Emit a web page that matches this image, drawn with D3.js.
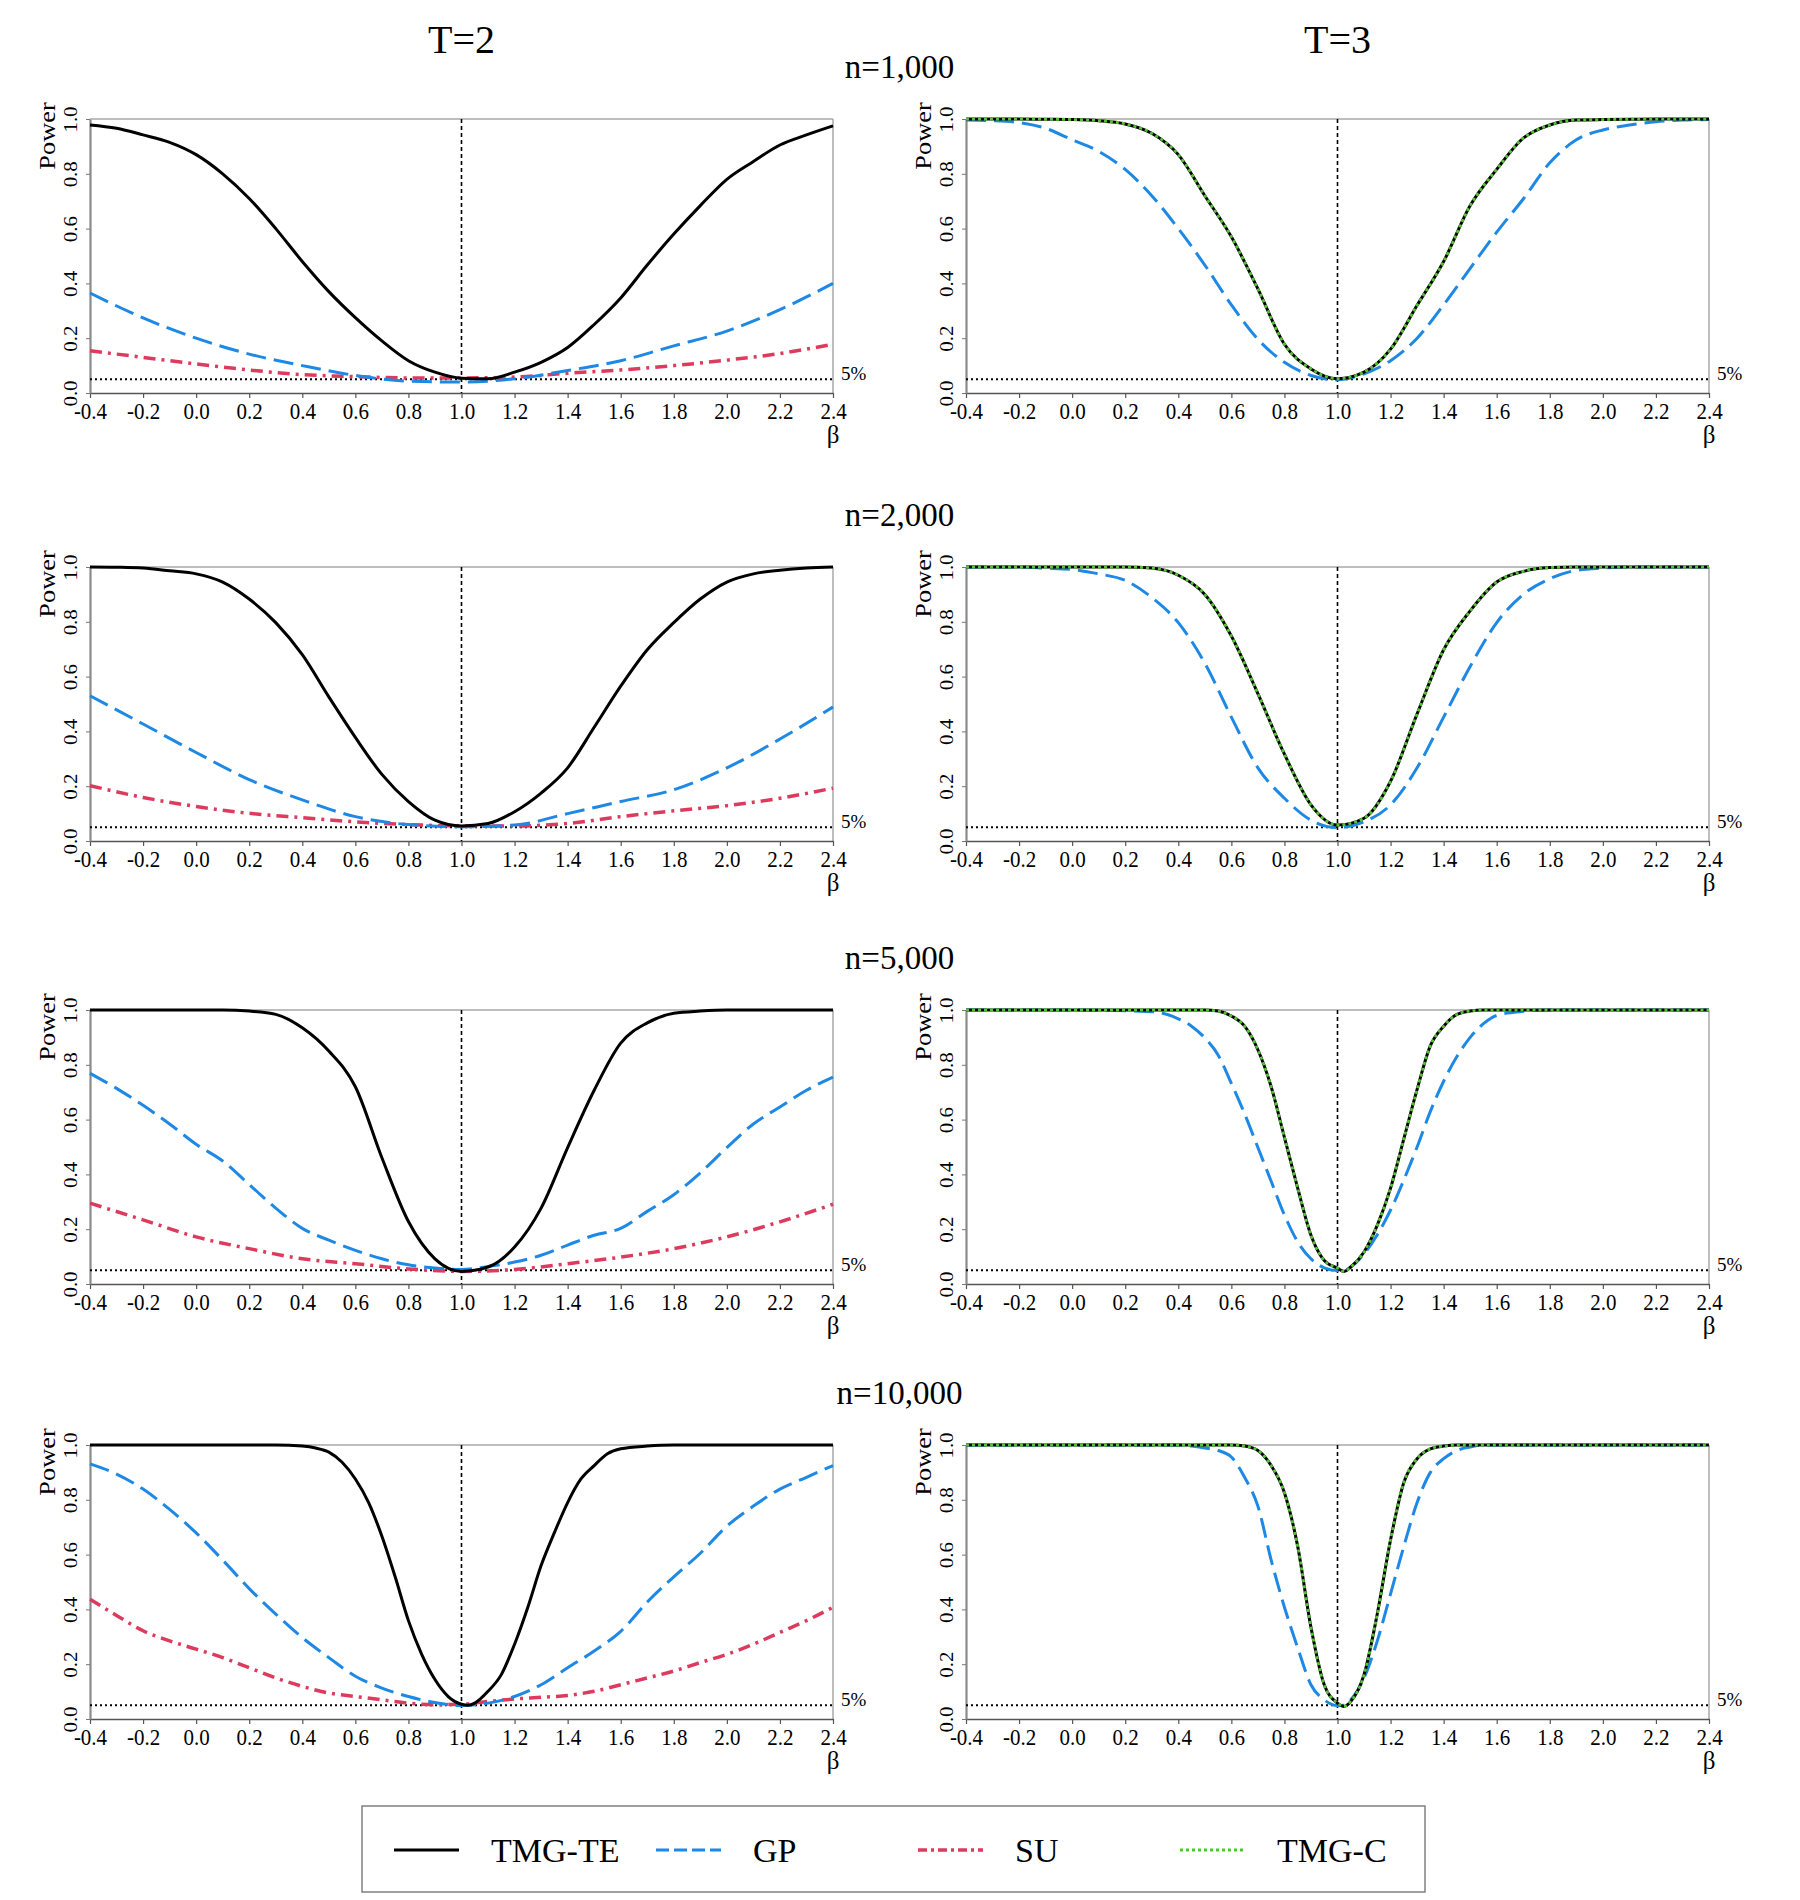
<!DOCTYPE html>
<html>
<head>
<meta charset="utf-8">
<script src="https://cdn.jsdelivr.net/npm/d3@7"></script>
<style>
  body { margin: 0; background: #fff; }
  svg text { font-family: "Liberation Serif", "Times New Roman", serif; fill: #000; }
</style>
</head>
<body>
<svg id="chart" width="1800" height="1900"></svg>
<script>
// ---- data ----
var periods = ["T=2", "T=3"];
var sampleSizes = ["n=1,000", "n=2,000", "n=5,000", "n=10,000"];
var seriesNames = ["TMG-TE", "GP", "SU", "TMG-C"];

var betaTicks = [-0.4, -0.2, 0, 0.2, 0.4, 0.6, 0.8, 1, 1.2, 1.4, 1.6, 1.8, 2, 2.2, 2.4];
var powerTicks = [0, 0.2, 0.4, 0.6, 0.8, 1];

var betaStep02 = [-0.4, -0.2, 0, 0.2, 0.4, 0.6, 0.8, 1, 1.2, 1.4, 1.6, 1.8, 2, 2.2, 2.4];
var betaStep01 = [-0.4, -0.3, -0.2, -0.1, 0, 0.1, 0.2, 0.3, 0.4, 0.5, 0.6, 0.7, 0.8, 0.9, 1,
  1.1, 1.2, 1.3, 1.4, 1.5, 1.6, 1.7, 1.8, 1.9, 2, 2.1, 2.2, 2.3, 2.4];
var betaFine = [-0.4, 0, 0.3, 0.4, 0.45, 0.5, 0.55, 0.6, 0.65, 0.7, 0.75, 0.8, 0.85, 0.9, 0.95, 1,
  1.025, 1.05, 1.1, 1.15, 1.2, 1.25, 1.3, 1.35, 1.4, 1.45, 1.5, 1.55, 1.6, 1.7, 1.8, 2, 2.4];

// n=1,000
var te_T2_n1000 = [.978, .966, .942, .915, .87, .80, .71, .60, .48, .37, .275, .19, .118, .076, .054,
  .052, .076, .112, .166, .25, .347, .467, .58, .684, .78, .845, .905, .942, .975];
var gp_T2_n1000 = [.365, .274, .20, .142, .10, .064, .043, .04, .052, .082, .118, .172, .226, .304, .40];
var su_T2_n1000 = [.154, .13, .106, .084, .067, .06, .055, .055, .058, .072, .084, .10, .12, .144, .178];
var te_T3_n1000 = [1, 1, 1, .999, .998, .994, .982, .948, .87, .72, .57, .38, .178, .088, .052,
  .076, .16, .32, .48, .684, .816, .93, .978, .996, .998, .999, 1, 1, 1];
var gp_T3_n1000 = [.996, .994, .987, .966, .924, .882, .816, .72, .60, .467, .322, .196, .112, .064, .048,
  .07, .118, .20, .322, .455, .587, .708, .84, .924, .96, .978, .99, .996, .998];

// n=2,000
var te_T2_n2000 = [1, .999, .996, .986, .975, .945, .883, .797, .68, .526, .378, .243, .144, .076, .055,
  .064, .107, .175, .267, .415, .565, .698, .797, .883, .945, .975, .988, .996, 1];
var gp_T2_n2000 = [.53, .427, .323, .224, .15, .089, .06, .052, .058, .10, .144, .187, .267, .372, .489];
var su_T2_n2000 = [.202, .159, .126, .101, .085, .07, .06, .055, .055, .064, .089, .11, .129, .156, .193];
var te_T3_n2000 = [1, 1, 1, 1, 1, 1, 1, .996, .97, .90, .748, .538, .317, .132, .058,
  .083, .218, .464, .698, .84, .945, .984, .998, 1, 1, 1, 1, 1, 1];
var gp_T3_n2000 = [1, 1, 1, .996, .991, .975, .951, .889, .797, .649, .452, .267, .156, .076, .049,
  .07, .132, .267, .452, .637, .797, .90, .957, .988, .996, 1, 1, 1, 1];

// n=5,000
var te_T2_n5000 = [1, 1, 1, 1, 1, 1, .996, .984, .935, .85, .72, .461, .228, .092, .046,
  .062, .135, .277, .498, .707, .879, .953, .988, .996, 1, 1, 1, 1, 1];
var gp_T2_n5000 = [.769, .714, .652, .584, .51, .449, .363, .277, .203, .16, .123, .092, .07, .058, .053,
  .064, .08, .105, .142, .178, .203, .265, .326, .406, .498, .584, .646, .707, .755];
var su_T2_n5000 = [.295, .234, .172, .129, .092, .074, .055, .046, .053, .074, .098, .129, .172, .227, .291];
var te_T3_n5000 = [1, 1, 1, 1, 1, 1, .996, .978, .941, .855, .72, .535, .35, .178, .086, .058,
  .046, .062, .117, .215, .35, .53, .71, .87, .941, .984, .996, 1, 1, 1, 1, 1, 1];
var gp_T3_n5000 = [1, 1, .994, .968, .941, .898, .836, .732, .621, .498, .375, .252, .154, .092, .059, .049,
  .05, .062, .11, .18, .27, .38, .50, .63, .74, .83, .90, .95, .98, .995, 1, 1, 1];

// n=10,000
var te_T2_n10000 = [1, 1, 1, .996, .989, .974, .937, .876, .79, .667, .519, .359, .236, .144, .082, .054,
  .05, .058, .101, .162, .273, .408, .56, .68, .79, .876, .925, .968, .986, .996, 1, 1, 1];
var gp_T2_n10000 = [.931, .894, .839, .765, .679, .58, .476, .383, .297, .224, .156, .113, .082, .06, .049,
  .058, .082, .125, .187, .248, .32, .427, .519, .605, .704, .777, .839, .882, .925];
var su_T2_n10000 = [.437, .378, .322, .285, .255, .224, .187, .15, .119, .095, .082, .07, .058, .052, .054,
  .064, .073, .079, .086, .101, .125, .15, .175, .206, .236, .273, .316, .359, .408];
var te_T3_n10000 = [1, 1, 1, 1, 1, 1, 1, 1, .996, .98, .925, .826, .63, .335, .125, .058,
  .046, .064, .162, .384, .654, .863, .95, .986, .996, 1, 1, 1, 1, 1, 1, 1, 1];
var gp_T3_n10000 = [1, 1, 1, 1, .996, .989, .98, .956, .882, .777, .58, .408, .26, .125, .07, .049,
  .05, .07, .15, .285, .457, .63, .79, .9, .95, .98, .993, 1, 1, 1, 1, 1, 1];

// TMG-C lies exactly on TMG-TE in every T=3 panel
var tmgc_T3_n1000 = te_T3_n1000.slice();
var tmgc_T3_n2000 = te_T3_n2000.slice();
var tmgc_T3_n5000 = te_T3_n5000.slice();
var tmgc_T3_n10000 = te_T3_n10000.slice();

// panel contents: [row][col] -> list of [series, beta, power] in drawing order
var panels = [
  [[["SU", betaStep02, su_T2_n1000], ["GP", betaStep02, gp_T2_n1000], ["TMG-TE", betaStep01, te_T2_n1000]],
   [["GP", betaStep01, gp_T3_n1000], ["TMG-TE", betaStep01, te_T3_n1000], ["TMG-C", betaStep01, tmgc_T3_n1000]]],
  [[["SU", betaStep02, su_T2_n2000], ["GP", betaStep02, gp_T2_n2000], ["TMG-TE", betaStep01, te_T2_n2000]],
   [["GP", betaStep01, gp_T3_n2000], ["TMG-TE", betaStep01, te_T3_n2000], ["TMG-C", betaStep01, tmgc_T3_n2000]]],
  [[["SU", betaStep02, su_T2_n5000], ["GP", betaStep01, gp_T2_n5000], ["TMG-TE", betaStep01, te_T2_n5000]],
   [["GP", betaFine, gp_T3_n5000], ["TMG-TE", betaFine, te_T3_n5000], ["TMG-C", betaFine, tmgc_T3_n5000]]],
  [[["SU", betaStep01, su_T2_n10000], ["GP", betaStep01, gp_T2_n10000], ["TMG-TE", betaFine, te_T2_n10000]],
   [["GP", betaFine, gp_T3_n10000], ["TMG-TE", betaFine, te_T3_n10000], ["TMG-C", betaFine, tmgc_T3_n10000]]]
];

// ---- look ----
var styles = {
  "TMG-TE": { stroke: "#000000", width: 3, dash: null, legendDash: null },
  "GP": { stroke: "#1e88e5", width: 3, dash: "20,8", legendDash: "13,5" },
  "SU": { stroke: "#dc3b5d", width: 3.5, dash: "12,6,3,6", legendDash: "9,4,3,4" },
  "TMG-C": { stroke: "#55c236", width: 2.8, dash: "3,3", legendDash: "3,3" }
};

var svg = d3.select("#chart");
svg.append("rect").attr("width", 1800).attr("height", 1900).attr("fill", "#fff");

var colLeft = [90, 966];
var plotW = 743;
var rowTop = [119, 567, 1010, 1445];
var plotH = 274;
var stretch = 1.1;   // the source figure's lettering is slightly taller than wide

function fmt(v) {
  return Math.abs(v) < 1e-9 ? "0.0" : v.toFixed(1);
}

// column headers
periods.forEach(function(p, c) {
  svg.append("text")
    .attr("x", colLeft[c] + plotW / 2)
    .attr("y", 53)
    .attr("text-anchor", "middle")
    .attr("font-size", 40)
    .text(p);
});

sampleSizes.forEach(function(label, r) {
  svg.append("text")
    .attr("x", (colLeft[0] + colLeft[1] + plotW) / 2)
    .attr("y", rowTop[r] - 41)
    .attr("text-anchor", "middle")
    .attr("font-size", 33)
    .text(label);

  for (var c = 0; c < 2; c++) {
    drawPanel(r, c);
  }
});

function drawPanel(r, c) {
  var left = colLeft[c], top = rowTop[r];
  var x = d3.scaleLinear().domain([-0.4, 2.4]).range([left, left + plotW]);
  var y = d3.scaleLinear().domain([0, 1]).range([top + plotH, top]);
  var g = svg.append("g");

  // top and right frame
  g.append("line")
    .attr("x1", x(-0.4)).attr("x2", x(2.4)).attr("y1", y(1)).attr("y2", y(1))
    .attr("stroke", "#a8a8a8").attr("stroke-width", 1.5);
  g.append("line")
    .attr("x1", x(2.4)).attr("x2", x(2.4)).attr("y1", y(1)).attr("y2", y(0))
    .attr("stroke", "#a8a8a8").attr("stroke-width", 1.5);

  // x axis
  var gx = g.append("g")
    .attr("transform", "translate(0," + y(0) + ")")
    .call(d3.axisBottom(x).tickValues(betaTicks).tickFormat(fmt).tickSize(5).tickSizeOuter(0));
  gx.select(".domain").attr("stroke", "#555").attr("stroke-width", 1.5);
  gx.selectAll(".tick line").attr("stroke", "#555").attr("stroke-width", 1.2);
  gx.selectAll(".tick text")
    .attr("y", 0).attr("dy", 0)
    .attr("transform", "translate(0,26) scale(1," + stretch + ")")
    .attr("font-size", 21)
    .attr("fill", "#000");

  // y axis
  var gy = g.append("g")
    .attr("transform", "translate(" + x(-0.4) + ",0)")
    .call(d3.axisLeft(y).tickValues(powerTicks).tickFormat(fmt).tickSize(4).tickSizeOuter(0));
  gy.select(".domain").attr("stroke", "#8a8a8a").attr("stroke-width", 2.2);
  gy.selectAll(".tick line").attr("stroke", "#777");
  gy.selectAll(".tick text")
    .attr("x", 0).attr("y", 0).attr("dy", 0)
    .attr("text-anchor", "middle")
    .attr("transform", "translate(-13,0) rotate(-90) scale(" + stretch + ",1)")
    .attr("font-size", 19)
    .attr("fill", "#000");

  g.append("text")
    .attr("transform", "translate(" + (left - 35) + "," + (top + 17) + ") rotate(-90) scale(" + stretch + ",1)")
    .attr("text-anchor", "middle")
    .attr("font-size", 24)
    .text("Power");

  g.append("text")
    .attr("x", x(2.4)).attr("y", y(0) + 50)
    .attr("text-anchor", "middle")
    .attr("font-size", 25)
    .text("β");

  // reference lines
  g.append("line")
    .attr("x1", x(1)).attr("x2", x(1)).attr("y1", y(1)).attr("y2", y(0))
    .attr("stroke", "#000").attr("stroke-width", 1.6).attr("stroke-dasharray", "4,3");
  g.append("line")
    .attr("x1", x(-0.4)).attr("x2", x(2.4)).attr("y1", y(0.05)).attr("y2", y(0.05))
    .attr("stroke", "#000").attr("stroke-width", 2).attr("stroke-dasharray", "2,3");
  g.append("text")
    .attr("x", x(2.4) + 8).attr("y", y(0.05) + 1)
    .attr("font-size", 19)
    .text("5%");

  var line = d3.line()
    .x(function(d) { return x(d[0]); })
    .y(function(d) { return y(d[1]); })
    .curve(d3.curveMonotoneX);

  panels[r][c].forEach(function(s) {
    var st = styles[s[0]];
    g.append("path")
      .datum(d3.zip(s[1], s[2]))
      .attr("fill", "none")
      .attr("stroke", st.stroke)
      .attr("stroke-width", st.width)
      .attr("stroke-dasharray", st.dash)
      .attr("stroke-linejoin", "round")
      .attr("d", line);
  });
}

// legend
var legend = svg.append("g");
legend.append("rect")
  .attr("x", 362).attr("y", 1806).attr("width", 1063).attr("height", 86)
  .attr("fill", "none").attr("stroke", "#808080").attr("stroke-width", 1.5);

seriesNames.forEach(function(name, i) {
  var st = styles[name];
  var lx = 394 + i * 262;
  legend.append("line")
    .attr("x1", lx).attr("x2", lx + 65).attr("y1", 1850).attr("y2", 1850)
    .attr("stroke", st.stroke).attr("stroke-width", st.width)
    .attr("stroke-dasharray", st.legendDash);
  legend.append("text")
    .attr("x", lx + 97).attr("y", 1862)
    .attr("font-size", 34)
    .text(name);
});
</script>
</body>
</html>
